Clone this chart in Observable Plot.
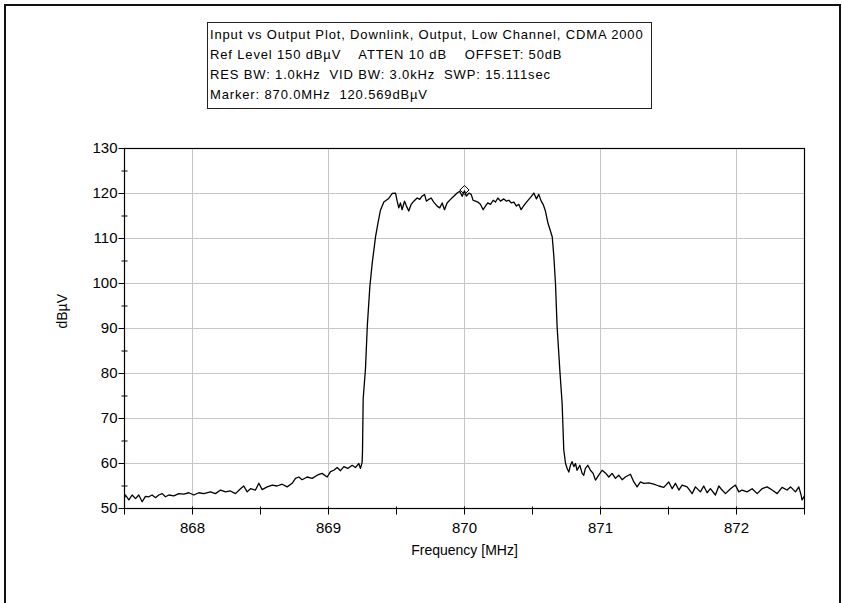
<!DOCTYPE html>
<html>
<head>
<meta charset="utf-8">
<script src="https://cdn.jsdelivr.net/npm/d3@7"></script>
<script src="https://cdn.jsdelivr.net/npm/@observablehq/plot@0.6"></script>
<style>
  html, body { margin: 0; padding: 0; background: #fff; }
  #page { position: relative; width: 843px; height: 603px; overflow: hidden; background: #fff; }
  #outer { position: absolute; left: 4px; top: 4px; width: 837px; height: 700px; box-sizing: border-box; border: 2px solid #111; }
  #chart { position: absolute; left: 0; top: 0; }
  #info { position: absolute; left: 207px; top: 22px; width: 445px; height: 87px; box-sizing: border-box;
          border: 1px solid #222; background: #fff; padding: 2px 0 0 2px;
          font-family: "Liberation Sans", Arial, sans-serif; font-size: 13px; line-height: 20px;
          letter-spacing: 0.85px; white-space: pre; color: #000; }
</style>
</head>
<body>
<div id="page">
  <div id="outer"></div>
  <div id="chart"></div>
  <div id="info"></div>
</div>
<script>
// ---- header text ----
const infoLines = [
  "Input vs Output Plot, Downlink, Output, Low Channel, CDMA 2000",
  "Ref Level 150 dBµV    ATTEN 10 dB    OFFSET: 50dB",
  "RES BW: 1.0kHz  VID BW: 3.0kHz  SWP: 15.111sec",
  "Marker: 870.0MHz  120.569dBµV"
];

// ---- trace ----
const freqMHz = [
  867.500, 867.507, 867.532, 867.556, 867.581, 867.605, 867.630, 867.654, 867.679, 867.703,
  867.728, 867.752, 867.777, 867.801, 867.826, 867.863, 867.899, 867.936, 867.973, 868.010,
  868.046, 868.083, 868.132, 868.169, 868.206, 868.243, 868.279, 868.316, 868.353, 868.377,
  868.402, 868.426, 868.463, 868.488, 868.512, 868.549, 868.586, 868.622, 868.659, 868.696,
  868.733, 868.757, 868.782, 868.806, 868.843, 868.880, 868.917, 868.953, 868.990, 869.015,
  869.039, 869.064, 869.088, 869.113, 869.142, 869.174, 869.198, 869.223, 869.235, 869.247,
  869.250, 869.255, 869.272, 869.285, 869.304, 869.321, 869.346, 869.363, 869.382, 869.407,
  869.443, 869.468, 869.493, 869.505, 869.517, 869.529, 869.541, 869.559, 869.573, 869.590,
  869.608, 869.627, 869.652, 869.671, 869.688, 869.706, 869.720, 869.738, 869.755, 869.774,
  869.799, 869.818, 869.836, 869.853, 869.872, 869.897, 869.921, 869.946, 869.965, 869.983,
  870.000, 870.014, 870.032, 870.049, 870.063, 870.081, 870.098, 870.117, 870.137, 870.154,
  870.171, 870.191, 870.211, 870.228, 870.245, 870.265, 870.289, 870.309, 870.326, 870.343,
  870.363, 870.382, 870.399, 870.416, 870.436, 870.456, 870.473, 870.490, 870.510, 870.529,
  870.546, 870.564, 870.578, 870.595, 870.613, 870.645, 870.657, 870.669, 870.681, 870.701,
  870.718, 870.730, 870.743, 870.755, 870.767, 870.779, 870.791, 870.804, 870.816, 870.828,
  870.848, 870.865, 870.877, 870.889, 870.907, 870.926, 870.946, 870.963, 870.987, 871.012,
  871.036, 871.061, 871.085, 871.110, 871.134, 871.159, 871.183, 871.220, 871.245, 871.269,
  871.294, 871.318, 871.355, 871.392, 871.429, 871.465, 871.502, 871.527, 871.551, 871.576,
  871.600, 871.637, 871.674, 871.698, 871.735, 871.759, 871.784, 871.808, 871.845, 871.870,
  871.894, 871.919, 871.956, 871.992, 872.017, 872.041, 872.078, 872.115, 872.152, 872.188,
  872.225, 872.262, 872.299, 872.335, 872.372, 872.397, 872.434, 872.458, 872.475, 872.482,
  872.500
];
const levelDbuV = [
  52.3, 53.0, 51.9, 53.0, 52.2, 53.0, 51.5, 52.7, 52.6, 53.0,
  52.4, 53.0, 53.3, 52.6, 53.0, 52.8, 53.3, 53.2, 53.5, 53.0,
  53.5, 53.3, 53.7, 53.3, 54.1, 53.7, 53.9, 53.3, 54.4, 55.0,
  53.7, 54.4, 54.1, 55.6, 54.2, 54.8, 55.2, 55.0, 55.4, 54.8,
  55.6, 56.7, 57.0, 56.4, 57.0, 56.7, 57.4, 57.8, 57.0, 58.2,
  58.5, 59.1, 58.4, 59.3, 58.9, 59.6, 59.1, 60.0, 58.9, 60.2,
  62.6, 74.4, 81.1, 90.4, 99.3, 104.4, 110.4, 113.3, 116.3, 118.1,
  118.9, 120.0, 120.1, 118.3, 116.8, 117.9, 116.4, 118.3, 117.2, 116.1,
  117.6, 118.3, 119.0, 118.7, 119.4, 119.8, 118.3, 118.7, 119.0, 118.1,
  117.2, 116.8, 117.9, 116.4, 117.9, 118.7, 119.4, 120.1, 120.5, 119.4,
  120.6, 119.4, 120.1, 119.8, 118.5, 118.3, 118.1, 117.6, 116.4, 117.2,
  117.9, 117.6, 118.5, 118.1, 119.0, 118.3, 118.8, 118.3, 118.5, 117.9,
  118.1, 117.2, 117.6, 116.4, 117.3, 118.1, 118.7, 119.3, 120.1, 118.8,
  119.8, 118.3, 117.6, 116.1, 113.5, 110.4, 106.0, 100.0, 90.4, 80.7,
  73.3, 63.0, 60.0, 58.9, 58.1, 59.6, 60.4, 59.3, 60.0, 58.5,
  59.6, 57.8, 57.4, 58.9, 59.6, 58.5, 57.8, 56.3, 57.4, 58.5,
  57.9, 57.0, 57.8, 56.7, 57.4, 56.4, 57.0, 57.6, 55.9, 54.8,
  55.9, 55.6, 55.7, 55.4, 55.0, 54.7, 55.9, 54.4, 55.6, 54.1,
  55.2, 54.8, 53.3, 54.8, 53.7, 55.0, 53.5, 54.4, 53.0, 55.0,
  54.1, 53.3, 54.4, 55.2, 53.7, 54.1, 53.7, 54.4, 53.3, 54.4,
  54.8, 54.1, 53.3, 54.7, 54.1, 54.8, 53.7, 54.8, 53.0, 51.9,
  52.8
];

// ---- marker ----
const markerFreq = [870.0];
const markerLevel = [120.569];

// ---- axes ----
const xDomain = [867.5, 872.5];
const yDomain = [50, 130];
const xLabelTicks = [868, 869, 870, 871, 872];
const xAllTicks = [867.5, 868, 868.5, 869, 869.5, 870, 870.5, 871, 871.5, 872, 872.5];
const yLabelTicks = [50, 60, 70, 80, 90, 100, 110, 120, 130];
const yMinorTicks = [55, 65, 75, 85, 95, 105, 115, 125];
const yGridTicks = [60, 70, 80, 90, 100, 110, 120];
const xTitle = "Frequency [MHz]";
const yTitle = "dBµV";

// ---- build ----
document.getElementById("info").textContent = infoLines.join("\n");

const trace = freqMHz.map((f, i) => ({f, v: levelDbuV[i]}));
const marker = markerFreq.map((f, i) => ({f, v: markerLevel[i]}));

const seg = (x1, y1, x2, y2) => ({draw(ctx) { ctx.moveTo(x1, y1); ctx.lineTo(x2, y2); }});
const yMajorTick = seg(-6, 0, 0, 0);
const yMinorTick = seg(-3, 0, 3, 0);
const xTick = seg(0, -2, 0, 6);
const diamond = {draw(ctx) { ctx.moveTo(0, -4.5); ctx.lineTo(4.5, 0); ctx.lineTo(0, 4.5); ctx.lineTo(-4.5, 0); ctx.closePath(); }};

const chart = Plot.plot({
  width: 843,
  height: 603,
  marginLeft: 124,
  marginRight: 39,
  marginTop: 148,
  marginBottom: 95,
  x: {domain: xDomain, label: null},
  y: {domain: yDomain, label: null},
  style: {fontFamily: "'Liberation Sans', Arial, sans-serif", fontSize: "15px", color: "#000", background: "transparent", overflow: "visible"},
  marks: [
    Plot.gridX(xLabelTicks, {stroke: "#c6c6c6", strokeOpacity: 1}),
    Plot.gridY(yGridTicks, {stroke: "#c6c6c6", strokeOpacity: 1}),
    Plot.line(trace, {x: "f", y: "v", stroke: "#000", strokeWidth: 1.3}),
    Plot.frame({stroke: "#000", strokeWidth: 1.2}),
    Plot.dot(xAllTicks, {x: d => d, frameAnchor: "bottom", symbol: xTick, stroke: "#000", fill: "none", strokeWidth: 1}),
    Plot.dot(yLabelTicks, {y: d => d, frameAnchor: "left", symbol: yMajorTick, stroke: "#000", fill: "none", strokeWidth: 1}),
    Plot.dot(yMinorTicks, {y: d => d, frameAnchor: "left", symbol: yMinorTick, stroke: "#000", fill: "none", strokeWidth: 1}),
    Plot.axisX(xLabelTicks, {tickSize: 0, tickPadding: 14, tickFormat: d => String(d), label: null, fontSize: 15}),
    Plot.axisY(yLabelTicks, {tickSize: 0, tickPadding: 7, tickFormat: d => String(d), label: null, fontSize: 15}),
    Plot.text([yTitle], {frameAnchor: "left", dx: -62, rotate: -90, fontSize: 14}),
    Plot.text([xTitle], {frameAnchor: "bottom", dy: 46, fontSize: 14}),
    Plot.dot(marker, {x: "f", y: "v", symbol: diamond, stroke: "#000", fill: "none", strokeWidth: 1, dy: -1})
  ]
});
document.getElementById("chart").appendChild(chart);
</script>
</body>
</html>
